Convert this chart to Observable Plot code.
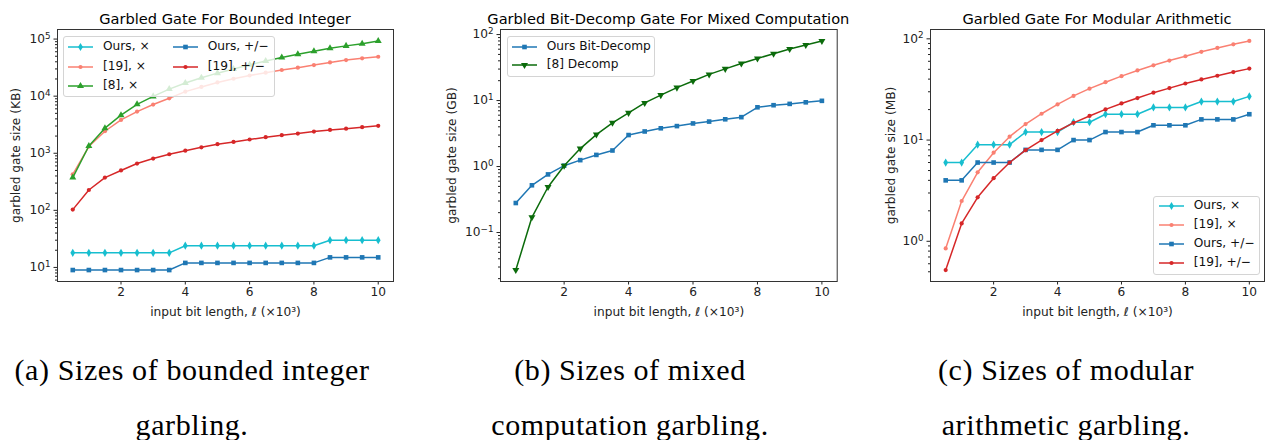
<!DOCTYPE html>
<html><head><meta charset="utf-8">
<script src="https://cdn.jsdelivr.net/npm/d3@7"></script>
<script src="https://cdn.jsdelivr.net/npm/@observablehq/plot@0.6"></script>
<style>
body{margin:0;background:#fff;width:1265px;height:440px;position:relative;overflow:hidden;font-family:"DejaVu Sans";}
.panel{position:absolute;top:0;}
.title{position:absolute;font-size:14.6px;color:#000;white-space:nowrap;transform:translate(-50%,-50%);}
.legend{position:absolute;background:rgba(255,255,255,0.8);border:1px solid #d4d4d4;border-radius:3px;box-sizing:border-box;}
.legend .item{position:absolute;height:14px;white-space:nowrap;font-size:12.2px;color:#111;}
.legend svg{position:absolute;left:0;top:0;overflow:visible;}
.legend span{position:absolute;top:-1px;}
.caption{position:absolute;font-family:"Liberation Serif";font-size:30px;letter-spacing:0.6px;color:#000;white-space:nowrap;transform:translate(-50%,-50%);}
</style></head><body>
<script>
// ---- data ----
const bitLength = [0.5,1,1.5,2,2.5,3,3.5,4,4.5,5,5.5,6,6.5,7,7.5,8,8.5,9,9.5,10];
const xTicks = [2,4,6,8,10];

// (a) bounded integer, KB
const oursMulA  = [18,18,18,18,18,18,18,24,24,24,24,24,24,24,24,24,30,30,30,30];
const ref19MulA = [427,1310,2430,3840,5370,7130,9180,12000,14500,17400,20200,23000,25800,28700,31600,35000,39000,42800,46000,49000];
const ref8MulA  = [375,1340,2750,4640,7200,9900,13300,17000,21000,25300,30000,35500,41300,47400,54000,61000,69000,76000,83000,92700];
const oursAddA  = [9,9,9,9,9,9,9,12,12,12,12,12,12,12,12,12,15,15,15,15];
const ref19AddA = [103,227,375,500,660,807,960,1110,1270,1440,1580,1740,1910,2070,2210,2400,2560,2700,2860,3020];

// (b) mixed computation, GB
const oursDecompB = [0.28,0.52,0.76,1.03,1.25,1.5,1.75,3.0,3.4,3.8,4.1,4.5,4.8,5.2,5.6,7.9,8.5,8.9,9.4,9.9];
const ref8DecompB = [0.027,0.17,0.49,1.03,1.87,3.05,4.6,6.5,9.2,12.1,15.7,19.8,24.9,30.2,36.5,43.5,51.2,60.5,69.5,80];

// (c) modular arithmetic, MB
const oursMulC  = [6,6,9,9,9,12,12,12,15,15,18,18,18,21,21,21,24,24,24,27];
const ref19MulC = [0.85,2.5,4.8,7.5,10.8,14.4,18.2,22.5,27.3,32.2,37.3,42.8,48.7,54.8,61,67.3,74.5,81.3,88.3,95.3];
const oursAddC  = [4,4,6,6,6,8,8,8,10,10,12,12,12,14,14,14,16,16,16,18];
const ref19AddC = [0.52,1.5,2.72,4.2,6.0,7.95,10,12.3,14.8,17.3,20.1,23,26,29.4,32.6,36.2,39.7,43.2,47,50.8];

const titles = ["Garbled Gate For Bounded Integer","Garbled Bit-Decomp Gate For Mixed Computation","Garbled Gate For Modular Arithmetic"];
const yLabels = ["garbled gate size (KB)","garbled gate size (GB)","garbled gate size (MB)"];
const xLabel = "input bit length, \u2113 (\u00d710\u00b3)";
const captions = [["(a) Sizes of bounded integer","garbling."],["(b) Sizes of mixed","computation garbling."],["(c) Sizes of modular","arithmetic garbling."]];

const C = {cyan:"#17becf", salmon:"#fa8072", green:"#2ca02c", blue:"#1f77b4", red:"#d62728", dgreen:"#0b6b0b"};

const expOf = v => String(Math.round(Math.log10(v))).replace("-", "\u2212");

function panel(cfg) {
  const all = cfg.series.flatMap(s => s.values);
  const lo = Math.log10(d3.min(all)), hi = Math.log10(d3.max(all));
  const pad = (hi - lo) * 0.05;
  const yDomain = [10 ** (lo - pad), 10 ** (hi + pad)];
  const xPad = (d3.max(bitLength) - d3.min(bitLength)) * 0.05;
  const xDomain = [d3.min(bitLength) - xPad, d3.max(bitLength) + xPad];
  const majors = d3.range(Math.ceil(lo - pad), Math.floor(hi + pad) + 1).map(e => 10 ** e);
  const minors = [];
  for (let e = Math.floor(lo - pad); e <= Math.ceil(hi + pad); e++)
    for (let m = 2; m <= 9; m++) { const v = m * 10 ** e; if (v >= yDomain[0] && v <= yDomain[1]) minors.push(v); }
  const marks = [];
  for (const s of cfg.series) {
    const data = bitLength.map((x, i) => ({x, y: s.values[i]}));
    marks.push(Plot.line(data, {x: "x", y: "y", stroke: s.color, strokeWidth: 1.5}));
    marks.push(Plot.dot(data, {x: "x", y: "y", fill: s.color, stroke: "none", symbol: s.symbol, r: s.r, rotate: s.rotate || 0}));
  }
  const svg = Plot.plot({
    width: cfg.width, height: 330,
    marginLeft: cfg.ml, marginRight: cfg.mr, marginTop: 29, marginBottom: 49,
    x: {domain: xDomain},
    y: {type: "log", domain: yDomain},
    style: {fontFamily: "DejaVu Sans", fontSize: "12.2px", color: "#222", background: "transparent", overflow: "visible"},
    marks: [
      ...marks,
      Plot.axisX({ticks: xTicks, tickSize: 3.5, tickPadding: 2.5, label: xLabel, labelAnchor: "center", labelArrow: "none", labelOffset: 34}),
      Plot.axisY({ticks: majors, tickSize: 3.5, tickPadding: 3.5, tickFormat: v => "10^" + expOf(v), label: cfg.yLabel, labelAnchor: "center", labelArrow: "none", labelOffset: cfg.ylo}),
      Plot.axisY({ticks: minors, tickSize: 2, tickFormat: () => "", label: null}),
      Plot.frame({stroke: "#333"})
    ]
  });
  // render power-of-ten tick labels with a raised superscript exponent
  svg.querySelectorAll('g[aria-label="y-axis tick label"] text').forEach(t => {
    const s = t.textContent;
    if (!s.startsWith("10^")) return;
    const e = s.slice(3);
    t.textContent = "10";
    const ts = document.createElementNS("http://www.w3.org/2000/svg", "tspan");
    ts.setAttribute("dy", "-0.5em");
    ts.setAttribute("font-size", "0.72em");
    ts.textContent = e;
    t.appendChild(ts);
  });
  const wrap = document.createElement("div");
  wrap.className = "panel";
  wrap.style.left = cfg.left + "px";
  wrap.appendChild(svg);
  document.body.appendChild(wrap);

  const t = document.createElement("div");
  t.className = "title"; t.textContent = cfg.title;
  t.style.left = (cfg.left + cfg.ml + (cfg.width - cfg.ml - cfg.mr) / 2) + "px"; t.style.top = "18.3px";
  document.body.appendChild(t);

  // legend
  const L = cfg.legend;
  const box = document.createElement("div");
  box.className = "legend";
  Object.assign(box.style, {left: L.left + "px", top: L.top + "px", width: L.w + "px", height: L.h + "px"});
  L.columns.forEach(col => {
    col.items.forEach((name, j) => {
      const s = cfg.series.find(d => d.name === name);
      const it = document.createElement("div");
      it.className = "item";
      it.style.left = col.x + "px";
      it.style.top = (L.first + j * L.gap - 7) + "px";
      const sw = d3.create("svg").attr("width", 25).attr("height", 14);
      sw.append("line").attr("x1", 0).attr("x2", 25).attr("y1", 7).attr("y2", 7).attr("stroke", s.color).attr("stroke-width", 1.5);
      const typ = {diamond: d3.symbolDiamond, square: d3.symbolSquare, circle: d3.symbolCircle, triangle: d3.symbolTriangle}[s.symbol];
      sw.append("path").attr("d", d3.symbol(typ, Math.PI * s.r * s.r)()).attr("fill", s.color)
        .attr("transform", `translate(12.5,7) rotate(${s.rotate || 0})`);
      it.appendChild(sw.node());
      const sp = document.createElement("span");
      sp.style.left = "35px"; sp.textContent = name;
      it.appendChild(sp);
      box.appendChild(it);
    });
  });
  document.body.appendChild(box);

  cfg.caption.forEach((line, k) => {
    const c = document.createElement("div");
    c.className = "caption"; c.textContent = line;
    c.style.left = cfg.capX + "px"; c.style.top = (k === 0 ? 370 : 425) + "px";
    document.body.appendChild(c);
  });
}

const sOursMul = v => ({name: "Ours, \u00d7", values: v, color: C.cyan, symbol: "diamond", r: 2.5});
const s19Mul = v => ({name: "[19], \u00d7", values: v, color: C.salmon, symbol: "circle", r: 2.1});
const sOursAdd = v => ({name: "Ours, +/\u2212", values: v, color: C.blue, symbol: "square", r: 2.6});
const s19Add = v => ({name: "[19], +/\u2212", values: v, color: C.red, symbol: "circle", r: 2.1});

panel({
  left: 0, width: 420, ml: 57, mr: 27, ylo: 46, title: titles[0], yLabel: yLabels[0], caption: captions[0], capX: 192,
  series: [sOursMul(oursMulA), s19Mul(ref19MulA), {name: "[8], \u00d7", values: ref8MulA, color: C.green, symbol: "triangle", r: 2.6}, sOursAdd(oursAddA), s19Add(ref19AddA)],
  legend: {left: 63, top: 36, w: 212, h: 61, first: 10.3, gap: 19.5,
    columns: [{x: 4, items: ["Ours, \u00d7", "[19], \u00d7", "[8], \u00d7"]}, {x: 108.7, items: ["Ours, +/\u2212", "[19], +/\u2212"]}]}
});
panel({
  left: 420, width: 440, ml: 80, mr: 23.3, ylo: 52.7, title: titles[1], yLabel: yLabels[1], caption: captions[1], capX: 630,
  series: [{name: "Ours Bit-Decomp", values: oursDecompB, color: C.blue, symbol: "square", r: 2.6},
           {name: "[8] Decomp", values: ref8DecompB, color: C.dgreen, symbol: "triangle", r: 2.6, rotate: 180}],
  legend: {left: 507, top: 36, w: 148, h: 40.5, first: 10.2, gap: 18.2,
    columns: [{x: 3.7, items: ["Ours Bit-Decomp", "[8] Decomp"]}]}
});
panel({
  left: 860, width: 405, ml: 70, mr: 1, ylo: 44.3, title: titles[2], yLabel: yLabels[2], caption: captions[2], capX: 1066,
  series: [sOursMul(oursMulC), s19Mul(ref19MulC), sOursAdd(oursAddC), s19Add(ref19AddC)],
  legend: {left: 1153, top: 196, w: 107, h: 78.5, first: 9, gap: 19.1,
    columns: [{x: 4.7, items: ["Ours, \u00d7", "[19], \u00d7", "Ours, +/\u2212", "[19], +/\u2212"]}]}
});
</script>
</body></html>
